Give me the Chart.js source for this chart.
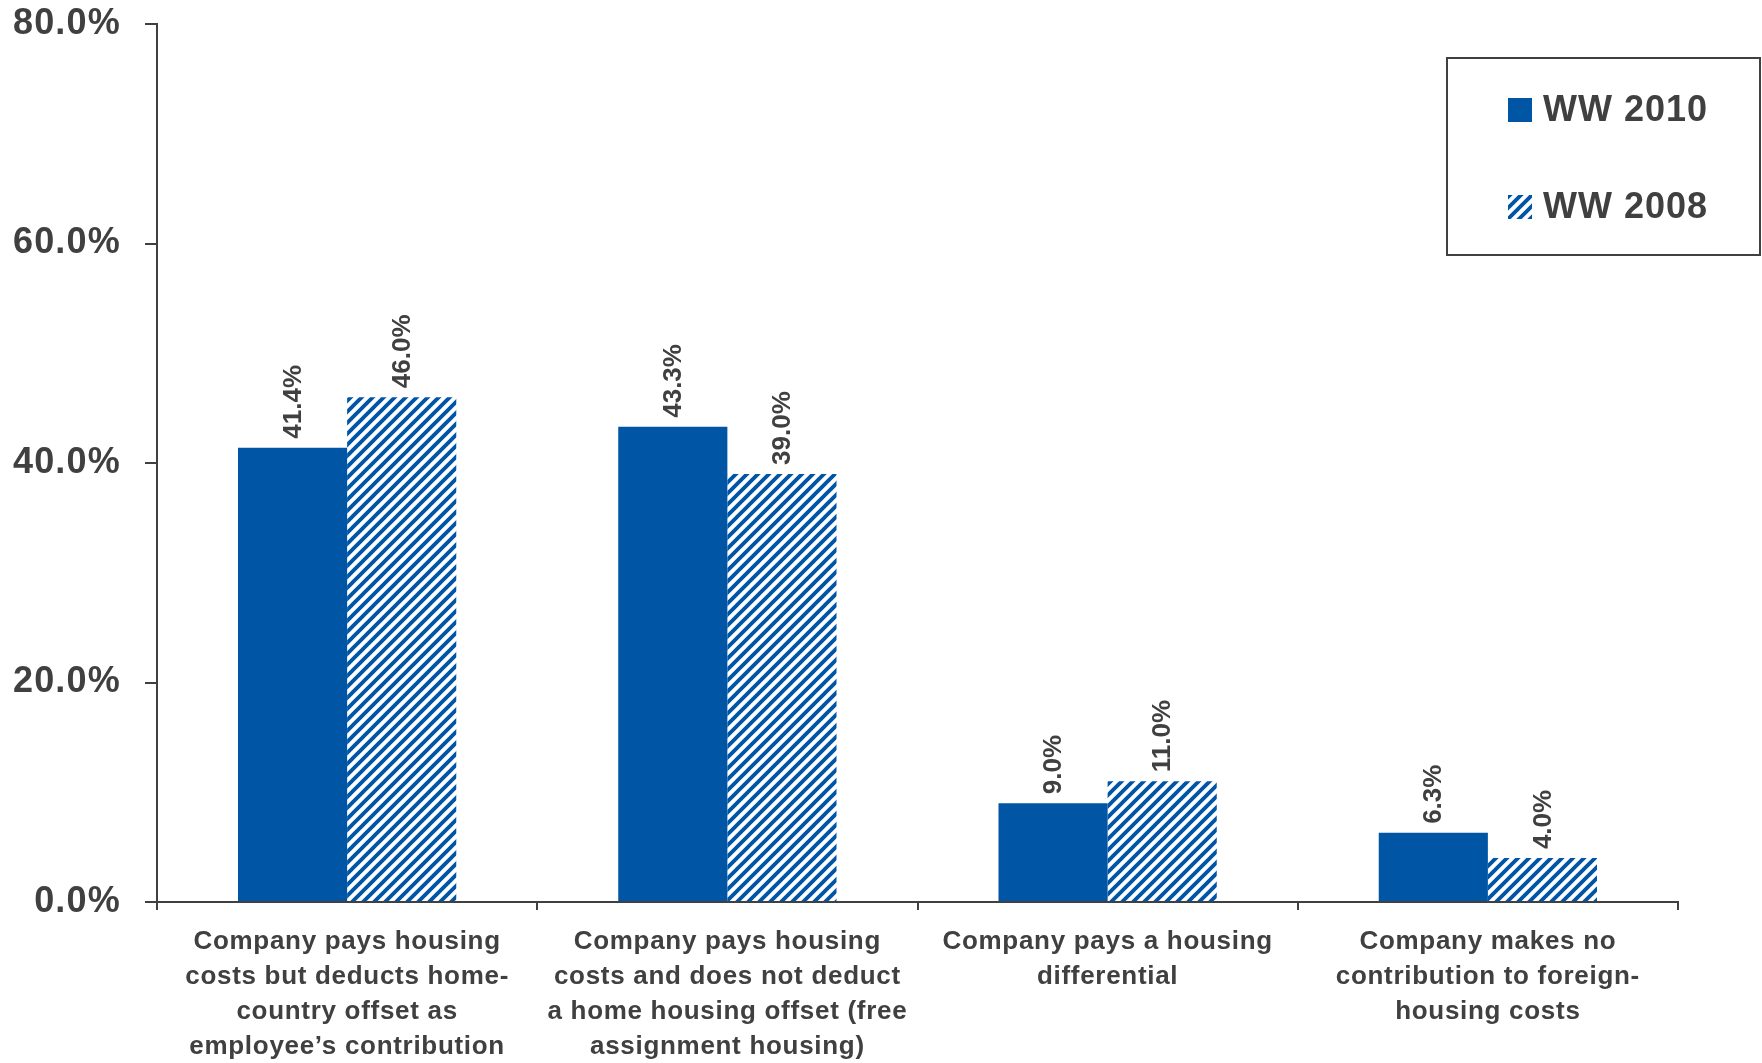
<!DOCTYPE html>
<html lang="en">
<head>
  <meta charset="UTF-8" />
  <title>Housing cost approach</title>
  <script src="https://cdn.jsdelivr.net/npm/chart.js"></script>
  <style>
    body {
      margin: 0;
      padding: 0;
      background-color: #fff;
    }
    #wrap {
      width: 1762px;
      height: 1063px;
    }
  </style>
</head>
<body>
  <div id="wrap">
    <canvas id="housingChart" width="1762" height="1063"></canvas>
  </div>

  <script>
    const categories = [
      ['Company pays housing', 'costs but deducts home-', 'country offset as', 'employee\u2019s contribution'],
      ['Company pays housing', 'costs and does not deduct', 'a home housing offset (free', 'assignment housing)'],
      ['Company pays a housing', 'differential'],
      ['Company makes no', 'contribution to foreign-', 'housing costs']
    ];
    const seriesNames = ['WW 2010', 'WW 2008'];
    const ww2010 = [41.4, 43.3, 9.0, 6.3];
    const ww2008 = [46.0, 39.0, 11.0, 4.0];
    const yTicks = [0, 20, 40, 60, 80];

    const BLUE = '#0055A5';
    const TEXT = '#404040';
    const FONT = '"Liberation Sans", Arial, sans-serif';

    // diagonal stripe fill for the older series
    function makeHatch() {
      const s = 11;
      const c = document.createElement('canvas');
      c.width = s;
      c.height = s;
      const g = c.getContext('2d');
      g.fillStyle = '#fff';
      g.fillRect(0, 0, s, s);
      g.strokeStyle = BLUE;
      g.lineWidth = 3.8;
      g.beginPath();
      g.moveTo(0, s); g.lineTo(s, 0);
      g.moveTo(-s / 2, s / 2); g.lineTo(s / 2, -s / 2);
      g.moveTo(s / 2, s * 1.5); g.lineTo(s * 1.5, s / 2);
      g.stroke();
      return g.createPattern(c, 'repeat');
    }
    const hatch = makeHatch();

    // draw a scale's labels with a little extra tracking
    function spaced(scale, px) {
      if (scale._spaced) return;
      const orig = scale.drawLabels.bind(scale);
      scale.drawLabels = area => {
        const c = scale.ctx;
        c.save();
        c.letterSpacing = px;
        orig(area);
        c.restore();
      };
      scale._spaced = true;
    }

    // values written vertically above each bar
    const barValues = {
      id: 'barValues',
      afterDatasetsDraw(chart) {
        const ctx = chart.ctx;
        ctx.save();
        ctx.fillStyle = TEXT;
        ctx.font = 'bold 26px ' + FONT;
        ctx.textAlign = 'left';
        ctx.textBaseline = 'middle';
        chart.data.datasets.forEach((ds, i) => {
          chart.getDatasetMeta(i).data.forEach((bar, j) => {
            ctx.save();
            ctx.translate(bar.x + 1, bar.y - 9);
            ctx.rotate(-Math.PI / 2);
            ctx.fillText(ds.data[j].toFixed(1) + '%', 0, 0);
            ctx.restore();
          });
        });
        ctx.restore();
      }
    };

    // boxed legend in the upper right corner
    const boxLegend = {
      id: 'boxLegend',
      afterDraw(chart) {
        const ctx = chart.ctx;
        ctx.save();
        ctx.strokeStyle = TEXT;
        ctx.lineWidth = 2;
        ctx.strokeRect(1447, 58, 313, 197);
        ctx.font = 'bold 36px ' + FONT;
        ctx.letterSpacing = '1px';
        ctx.textBaseline = 'middle';
        chart.data.datasets.forEach((ds, i) => {
          const cy = 110 + i * 97;
          ctx.fillStyle = ds.backgroundColor;
          ctx.fillRect(1508, cy - 12, 24, 24);
          ctx.fillStyle = TEXT;
          ctx.fillText(ds.label, 1543, cy + 1);
        });
        ctx.restore();
      }
    };

    const ctx = document.getElementById('housingChart').getContext('2d');

    new Chart(ctx, {
      type: 'bar',
      data: {
        labels: categories,
        datasets: [
          { label: seriesNames[0], data: ww2010, backgroundColor: BLUE },
          { label: seriesNames[1], data: ww2008, backgroundColor: hatch }
        ]
      },
      options: {
        responsive: false,
        animation: false,
        layout: { padding: { top: 24, right: 84, left: 0, bottom: 0 } },
        datasets: {
          bar: { categoryPercentage: 0.574, barPercentage: 1.0 }
        },
        plugins: {
          legend: { display: false },
          tooltip: { enabled: false }
        },
        scales: {
          x: {
            grid: {
              offset: true,
              drawOnChartArea: false,
              tickLength: 8,
              color: TEXT,
              lineWidth: 2
            },
            border: { color: TEXT, width: 2 },
            ticks: {
              color: TEXT,
              font: { family: FONT, size: 26, weight: 'bold', lineHeight: 1.35 },
              padding: 14,
              maxRotation: 0,
              autoSkip: false
            },
            afterFit(scale) {
              scale.height = 161;
              spaced(scale, '0.7px');
            }
          },
          y: {
            min: yTicks[0],
            max: yTicks[yTicks.length - 1],
            afterBuildTicks(scale) {
              scale.ticks = yTicks.map(v => ({ value: v }));
            },
            grid: {
              drawOnChartArea: false,
              tickLength: 12,
              color: TEXT,
              lineWidth: 2
            },
            border: { color: TEXT, width: 2 },
            ticks: {
              color: TEXT,
              font: { family: FONT, size: 36, weight: 'bold' },
              padding: 24,
              callback: v => v.toFixed(1) + '%'
            },
            afterFit(scale) {
              scale.width = 157;
              // top label may overhang the plot; the layout padding covers it
              scale.paddingTop = 0;
              scale.paddingBottom = 0;
              spaced(scale, '1.2px');
            }
          }
        }
      },
      plugins: [barValues, boxLegend]
    });
  </script>
</body>
</html>
